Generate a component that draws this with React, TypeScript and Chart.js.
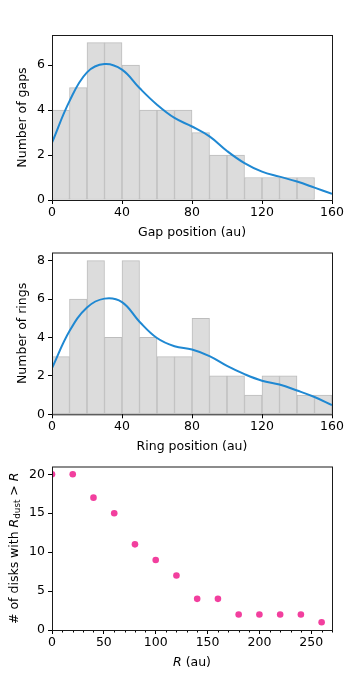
import React, { useEffect, useRef } from "react";
import { Chart, registerables } from "chart.js";

Chart.register(...registerables);

// ---------- data ----------
const binCenters = [5, 15, 25, 35, 45, 55, 65, 75, 85, 95, 105, 115, 125, 135, 145, 155];
const gapCounts = [4, 5, 7, 7, 6, 4, 4, 4, 3, 2, 2, 1, 1, 1, 1, 0];
const ringCounts = [3, 6, 8, 4, 8, 4, 3, 3, 5, 2, 2, 1, 2, 2, 1, 1];

const kdeX = [0, 10, 20, 30, 40, 50, 60, 70, 80, 90, 100, 110, 120, 130, 140, 150, 160];
const gapKde = [2.55, 4.4, 5.68, 6.05, 5.8, 4.98, 4.24, 3.65, 3.27, 2.83, 2.18, 1.64, 1.26, 1.04, 0.82, 0.55, 0.27];
const ringKde = [2.4, 4.33, 5.56, 6.02, 5.84, 4.82, 3.97, 3.54, 3.37, 3.03, 2.52, 2.09, 1.75, 1.55, 1.24, 0.9, 0.48];

const histXTicks = [0, 40, 80, 120, 160];
const gapYTicks = [0, 2, 4, 6];
const ringYTicks = [0, 2, 4, 6, 8];

const radii = [0, 20, 40, 60, 80, 100, 120, 140, 160, 180, 200, 220, 240, 260];
const diskCounts = [20, 20, 17, 15, 11, 9, 7, 4, 4, 2, 2, 2, 2, 1];
const rXTicks = [0, 50, 100, 150, 200, 250];
const rMinorTicks = [10, 20, 30, 40, 60, 70, 80, 90, 110, 120, 130, 140, 160, 170, 180, 190, 210, 220, 230, 240, 260, 270];
const diskYTicks = [0, 5, 10, 15, 20];

// ---------- style ----------
const FONT = '"DejaVu Sans", sans-serif';
const FS = 12.5;
const BLUE = "#1f88d2";
const PINK = "#f23f9e";
const BAR_FILL = "#dcdcdc";
const BAR_EDGE = "#bdbdbd";

type Seg = { t: string; italic?: boolean; sub?: boolean };

function drawRich(ctx: CanvasRenderingContext2D, segs: Seg[], cx: number, cy: number, rotate: boolean) {
  ctx.save();
  ctx.translate(cx, cy);
  if (rotate) ctx.rotate(-Math.PI / 2);
  ctx.fillStyle = "#000";
  ctx.textBaseline = "middle";
  ctx.textAlign = "left";
  const fontFor = (s: Seg) => `${s.italic ? "italic " : ""}${s.sub ? FS * 0.7 : FS}px ${FONT}`;
  let total = 0;
  const widths = segs.map((s) => {
    ctx.font = fontFor(s);
    const w = ctx.measureText(s.t).width;
    total += w;
    return w;
  });
  let x = -total / 2;
  segs.forEach((s, i) => {
    ctx.font = fontFor(s);
    ctx.fillText(s.t, x, s.sub ? FS * 0.28 : 0);
    x += widths[i];
  });
  ctx.restore();
}

const frameTitlesPlugin = {
  id: "frameTitles",
  afterDraw(chart: any, _args: any, opts: any) {
    const { ctx, chartArea: a } = chart;
    ctx.save();
    // minor ticks
    if (opts.minorTicks) {
      const xs = chart.scales.x;
      ctx.strokeStyle = "#000";
      ctx.lineWidth = 1;
      ctx.beginPath();
      for (const v of opts.minorTicks as number[]) {
        const px = Math.round(xs.getPixelForValue(v)) + 0.5;
        ctx.moveTo(px, a.bottom);
        ctx.lineTo(px, a.bottom + 2.5);
      }
      ctx.stroke();
    }
    // frame
    ctx.strokeStyle = "#1a1a1a";
    ctx.lineWidth = 1;
    ctx.strokeRect(a.left + 0.5, a.top + 0.5, a.right - a.left, a.bottom - a.top);
    ctx.restore();
    // titles
    if (opts.xTitle) drawRich(ctx, opts.xTitle, (a.left + a.right) / 2, a.bottom + opts.xTitleOffset, false);
    if (opts.yTitle) drawRich(ctx, opts.yTitle, opts.yTitleX, (a.top + a.bottom) / 2, true);
  },
};

function axisCommon(tickValues: number[]) {
  return {
    afterBuildTicks: (s: any) => {
      s.ticks = tickValues.map((v) => ({ value: v }));
    },
    grid: { display: true, drawOnChartArea: false, drawTicks: true, tickLength: 4, tickColor: "#000", tickWidth: 1, offset: false },
    border: { display: false },
    ticks: { color: "#000", font: { family: FONT, size: FS }, autoSkip: false, maxRotation: 0, minRotation: 0 },
  };
}

function histConfig(counts: number[], kde: number[], xTitle: Seg[], yTitle: Seg[], yMax: number, yTicks: number[], padTop: number, xHeight: number): any {
  const xc = axisCommon(histXTicks);
  const yc = axisCommon(yTicks);
  return {
    type: "bar",
    data: {
      datasets: [
        {
          type: "line",
          data: kdeX.map((x, i) => ({ x, y: kde[i] })),
          borderColor: BLUE,
          borderWidth: 2,
          pointRadius: 0,
          tension: 0.4,
          fill: false,
          order: 0,
          clip: 0,
        },
        {
          type: "bar",
          data: binCenters.map((x, i) => ({ x, y: counts[i] })),
          backgroundColor: BAR_FILL,
          borderColor: BAR_EDGE,
          borderWidth: 1,
          borderSkipped: false,
          barPercentage: 1,
          categoryPercentage: 1,
          order: 1,
        },
      ],
    },
    options: {
      animation: false,
      responsive: false,
      maintainAspectRatio: false,
      layout: { padding: { top: padTop, right: 18, left: 0, bottom: 0 } },
      plugins: {
        legend: { display: false },
        tooltip: { enabled: false },
        frameTitles: { xTitle, yTitle, xTitleOffset: 32.5, yTitleX: 22.5 },
      },
      scales: {
        x: {
          type: "linear",
          min: 0,
          max: 160,
          offset: false,
          ...xc,
          afterFit: (s: any) => {
            s.height = xHeight;
          },
          ticks: { ...xc.ticks, padding: 1 },
        },
        y: {
          type: "linear",
          min: 0,
          max: yMax,
          ...yc,
          afterFit: (s: any) => {
            s.width = 52;
          },
          ticks: { ...yc.ticks, padding: 3 },
        },
      },
    },
    plugins: [frameTitlesPlugin],
  };
}

function scatterConfig(padTop: number, xHeight: number): any {
  const xc = axisCommon(rXTicks);
  const yc = axisCommon(diskYTicks);
  return {
    type: "scatter",
    data: {
      datasets: [
        {
          data: radii.map((x, i) => ({ x, y: diskCounts[i] })),
          backgroundColor: PINK,
          borderWidth: 0,
          pointRadius: 3.3,
          clip: 0,
        },
      ],
    },
    options: {
      animation: false,
      responsive: false,
      maintainAspectRatio: false,
      layout: { padding: { top: padTop, right: 18, left: 0, bottom: 0 } },
      plugins: {
        legend: { display: false },
        tooltip: { enabled: false },
        frameTitles: {
          xTitle: [{ t: "R", italic: true }, { t: " (au)" }],
          yTitle: [{ t: "# of disks with " }, { t: "R", italic: true }, { t: "dust", sub: true }, { t: " > " }, { t: "R", italic: true }],
          xTitleOffset: 32.7,
          yTitleX: 14.5,
          minorTicks: rMinorTicks,
        },
      },
      scales: {
        x: {
          type: "linear",
          min: 0,
          max: 270,
          ...xc,
          afterFit: (s: any) => {
            s.height = xHeight;
          },
          ticks: { ...xc.ticks, padding: 1 },
        },
        y: {
          type: "linear",
          min: 0,
          max: 21,
          ...yc,
          afterFit: (s: any) => {
            s.width = 52;
          },
          ticks: { ...yc.ticks, padding: 3 },
        },
      },
    },
    plugins: [frameTitlesPlugin],
  };
}

function ChartCanvas({ top, height, make }: { top: number; height: number; make: () => any }) {
  const ref = useRef<HTMLCanvasElement>(null);
  useEffect(() => {
    const chart = new Chart(ref.current as HTMLCanvasElement, make());
    return () => chart.destroy();
  }, []);
  return (
    <canvas
      ref={ref}
      width={350}
      height={height}
      style={{ position: "absolute", left: 0, top, width: 350, height, display: "block" }}
    />
  );
}

export default function App() {
  useEffect(() => {
    document.body.style.margin = "0";
    document.body.style.background = "#fff";
  }, []);
  return (
    <div style={{ position: "relative", width: 350, height: 700, background: "#fff" }}>
      <ChartCanvas
        top={0}
        height={242}
        make={() =>
          histConfig(gapCounts, gapKde, [{ t: "Gap position (au)" }], [{ t: "Number of gaps" }], 7.34, gapYTicks, 35, 42)
        }
      />
      <ChartCanvas
        top={242}
        height={214}
        make={() =>
          histConfig(ringCounts, ringKde, [{ t: "Ring position (au)" }], [{ t: "Number of rings" }], 8.42, ringYTicks, 7.5, 41.7)
        }
      />
      <ChartCanvas top={456} height={244} make={() => scatterConfig(8.7, 70)} />
    </div>
  );
}
